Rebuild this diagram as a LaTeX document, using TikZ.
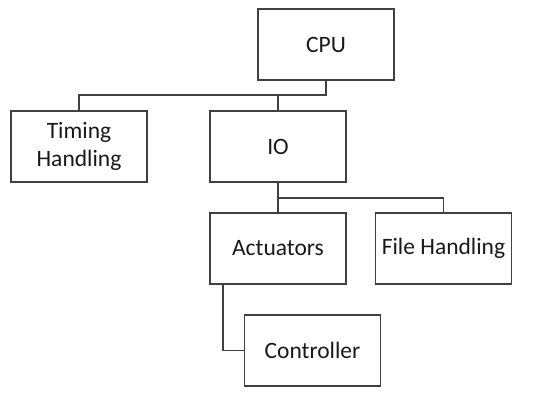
\documentclass[tikz,border=0pt]{standalone}
\usepackage{fontspec}
\setmainfont{Carlito}
\begin{document}
\begin{tikzpicture}[x=1pt,y=-1pt,
  box/.style={draw=black!75,line width=1.2pt,minimum width=136pt,minimum height=71pt,inner sep=0pt,align=center,font=\fontsize{23.5}{28.5}\selectfont,text=black!90},
  conn/.style={draw=black!75,line width=1.2pt}]
\useasboundingbox (0,0) rectangle (550,396);
\node[box] (cpu) at (326,44.5) {CPU};
\node[box] (tim) at (79,146.5) {Timing\\Handling};
\node[box] (io) at (278,146.5) {IO};
\node[box] (act) at (278,248.5) {Actuators};
\node[box] (file) at (443.5,248.5) {File Handling};
\node[box] (ctl) at (312.5,350.5) {Controller};
\coordinate (j1) at (326,95);
\coordinate (j2) at (278,198);
\draw[conn] (cpu.south) -- (j1) -| (tim.north);
\draw[conn] (j1 -| io.north) -- (io.north);
\draw[conn] (io.south) -- (j2) -| (file.north);
\draw[conn] (j2) -- (act.north);
\draw[conn] ([xshift=-55pt]act.south) |- (ctl.west);
\end{tikzpicture}
\end{document}
